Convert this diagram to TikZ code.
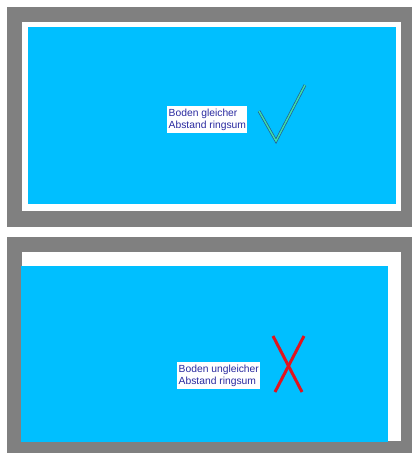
\documentclass[tikz,border=0pt]{standalone}
\usepackage{fontspec}
\setmainfont{Liberation Sans}
\usetikzlibrary{positioning}
\definecolor{wallgray}{HTML}{808080}
\definecolor{poolblue}{HTML}{00BFFF}
\definecolor{labelblue}{HTML}{2A2AA0}
\definecolor{crossred}{HTML}{E0141E}
\definecolor{tickline}{HTML}{2A5A8A}
\definecolor{tickfill}{HTML}{3CE0A8}
\begin{document}
\begin{tikzpicture}[
                    x=1pt, y=-1pt,
                    label/.style={fill=white, text=labelblue, inner xsep=1.5pt, inner ysep=2.5pt, align=left, font=\fontsize{10.3}{12.3}\selectfont},
                    tick/.style={draw=tickline, double=tickfill, double distance=1.4pt, line width=0.7pt, line join=miter},
                    cross/.style={draw=crossred, line width=3pt}
                ]
                    \useasboundingbox (0,0) rectangle (412,453);
                    % top: even gap
                    \fill[wallgray] (7,7) rectangle (412,227);
                    \fill[white] (22,22) rectangle (401,211);
                    \fill[poolblue] (28,27) rectangle (396,204);
                    \node[label, anchor=north west] (even) at (167,106) {Boden gleicher\\Abstand ringsum};
                    \coordinate (t1) at (259,111);
                    \coordinate (t2) at (276,141);
                    \coordinate (t3) at (305,85);
                    \draw[tick] (t1) -- (t2) -- (t3);
                    % bottom: uneven gap
                    \fill[wallgray] (7,237) rectangle (412,453);
                    \fill[white] (22,252) rectangle (401,441);
                    \fill[poolblue] (21,266) rectangle (388,442);
                    \node[label, anchor=north west] (uneven) at (177,362) {Boden ungleicher\\Abstand ringsum};
                    \coordinate (x1) at (273,336);
                    \coordinate (x2) at (302,392);
                    \coordinate (x3) at (304,336);
                    \coordinate (x4) at (275,392);
                    \draw[cross] (x1) -- (x2);
                    \draw[cross] (x3) -- (x4);
                \end{tikzpicture}
\end{document}
